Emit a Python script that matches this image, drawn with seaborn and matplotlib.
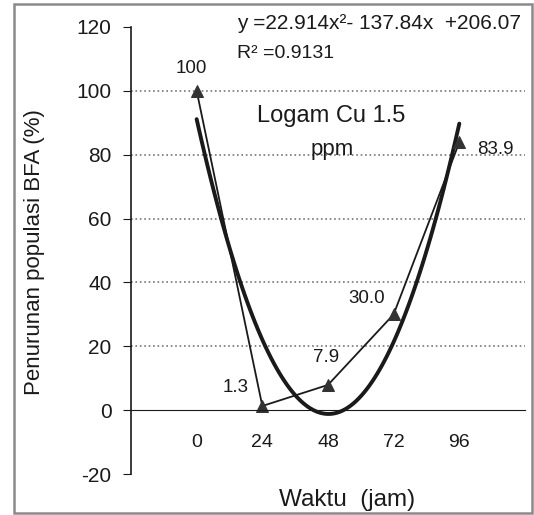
import numpy as np
import pandas as pd
import seaborn as sns
import matplotlib.pyplot as plt
from matplotlib.patches import Rectangle

# data
hours = [0, 24, 48, 72, 96]
decline = [100, 1.3, 7.9, 30.0, 83.9]
point_labels = ["100", "1.3", "7.9", "30.0", "83.9"]
label_offsets = [(-5, 22), (-27, 18), (-2, 27), (-27, 16), (36, -7)]  # pixels
x_tick_labels = ["0", "24", "48", "72", "96"]
y_ticks = [-20, 0, 20, 40, 60, 80, 100, 120]

sns.set_style("white")
plt.rcParams['font.family'] = ['Liberation Sans', 'DejaVu Sans']

df = pd.DataFrame({"Waktu": hours, "Penurunan": decline})

fig = plt.figure(figsize=(5.34, 5.15), dpi=100)
ax = fig.add_axes([0.2453, 0.0796, 0.7378, 0.868])

ink = "#1a1a1a"

# polynomial (order 2) trendline
sns.regplot(data=df, x="Waktu", y="Penurunan", order=2, ci=None, scatter=False,
            truncate=True, color=ink, line_kws=dict(lw=2.8), ax=ax)
# measured data
sns.lineplot(data=df, x="Waktu", y="Penurunan", color=ink, lw=1.3, marker="^",
             markersize=9, markerfacecolor="#333333", markeredgecolor="#333333", ax=ax)

for x, y, txt, off in zip(hours, decline, point_labels, label_offsets):
    ax.annotate(txt, (x, y), xytext=off, textcoords="offset pixels",
                ha="center", va="center", fontsize=13.5, color=ink)

ax.set_xlim(-24, 120)
ax.set_ylim(-20, 120)
ax.set_yticks(y_ticks)
ax.set_yticklabels([str(t) for t in y_ticks])
ax.set_xticks([-24] + hours + [120])
ax.set_xticklabels([""] + x_tick_labels + [""])
ax.tick_params(axis="x", direction="out", length=6, pad=11, color=ink,
               labelsize=14, labelcolor=ink)
ax.tick_params(axis="y", direction="out", length=6, pad=8, color=ink, left=True,
               labelsize=15, labelcolor=ink)

ax.grid(axis="y", ls=":", lw=1.2, color="#777777")
for line, t in zip(ax.get_ygridlines(), y_ticks):
    if t in (-20, 0, 120):
        line.set_visible(False)

for side in ("top", "right"):
    ax.spines[side].set_visible(False)
ax.spines["bottom"].set_position(("data", 0))
ax.spines["bottom"].set_color(ink)
ax.spines["left"].set_color(ink)
ax.spines["left"].set_linewidth(1.2)

ax.set_xlabel("")
ax.set_ylabel("")
fig.text(0.0655, 0.511, "Penurunan populasi BFA (%)", rotation=90, ha="center",
         va="center", fontsize=16, color=ink)
fig.text(0.65, 0.029, "Waktu  (jam)", ha="center", va="center", fontsize=17.5, color=ink)

ax.text(0.27, 1.007, "y =22.914x²- 137.84x  +206.07", transform=ax.transAxes,
        ha="left", va="center", fontsize=15, color=ink)
ax.text(0.27, 0.94, "R² =0.9131", transform=ax.transAxes,
        ha="left", va="center", fontsize=14, color=ink)
ax.text(0.508, 0.801, "Logam Cu 1.5", transform=ax.transAxes,
        ha="center", va="center", fontsize=17, color=ink)
ax.text(0.51, 0.725, "ppm", transform=ax.transAxes,
        ha="center", va="center", fontsize=16, color=ink)

# chart border
fig.patches.append(Rectangle((14 / 534, 2 / 515), 518 / 534, 509 / 515,
                             transform=fig.transFigure, fill=False,
                             ec="#8a8a8a", lw=1.8))

fig.savefig("out.png", dpi=100)
